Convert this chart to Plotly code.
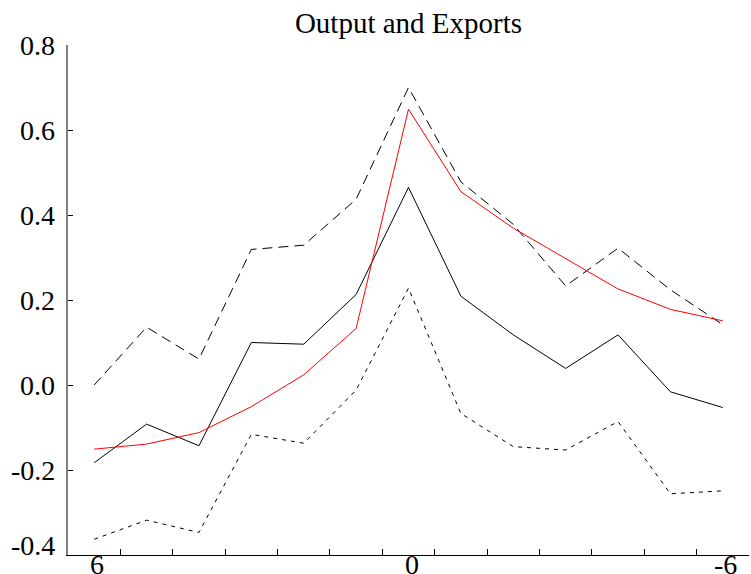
import plotly.graph_objects as go

# Horizon (leads/lags) and the four series
horizon = [6, 5, 4, 3, 2, 1, 0, -1, -2, -3, -4, -5, -6]
estimate = [-0.183, -0.092, -0.143, 0.100, 0.096, 0.213, 0.465, 0.209, 0.118, 0.039, 0.118, -0.016, -0.053]
model = [-0.151, -0.139, -0.112, -0.051, 0.024, 0.133, 0.649, 0.455, 0.369, 0.297, 0.226, 0.178, 0.151]
upper_band = [0.0, 0.136, 0.061, 0.319, 0.329, 0.437, 0.700, 0.478, 0.378, 0.233, 0.322, 0.224, 0.142]
lower_band = [-0.363, -0.318, -0.347, -0.116, -0.137, -0.012, 0.228, -0.067, -0.145, -0.153, -0.086, -0.256, -0.249]

y_ticks = [-0.4, -0.2, 0.0, 0.2, 0.4, 0.6, 0.8]
y_tick_text = ["-0.4", "-0.2", "0.0", "0.2", "0.4", "0.6", "0.8"]
x_minor_ticks = [5.5, 4.5, 3.5, 2.5, 1.5, 0.5, -0.5, -1.5, -2.5, -3.5, -4.5, -5.5, -6.5]
x_label_vals = [6, 0, -6]
x_label_text = ["6", "0", "-6"]

FONT = "Liberation Serif"

fig = go.Figure()
fig.add_trace(go.Scatter(x=horizon, y=upper_band, mode="lines",
                         line=dict(color="black", width=1, dash="10px,6px")))
fig.add_trace(go.Scatter(x=horizon, y=lower_band, mode="lines",
                         line=dict(color="black", width=1, dash="4px,5px")))
fig.add_trace(go.Scatter(x=horizon, y=estimate, mode="lines",
                         line=dict(color="black", width=1)))
fig.add_trace(go.Scatter(x=horizon, y=model, mode="lines",
                         line=dict(color="#ff0000", width=1)))

annotations = []
for v, t in zip(y_ticks, y_tick_text):
    annotations.append(dict(
        x=0, xref="paper", y=v, yref="y", text=t, showarrow=False,
        xanchor="right", yanchor="middle", xshift=-11,
        yshift=10 if v == y_ticks[0] else 0,
        font=dict(family=FONT, size=28, color="black")))
for v, t in zip(x_label_vals, x_label_text):
    annotations.append(dict(
        x=v, xref="x", y=0, yref="paper", text=t, showarrow=False,
        xanchor="center", yanchor="top", yshift=8, xshift=3,
        font=dict(family=FONT, size=28, color="black")))

fig.update_layout(
    width=751, height=574,
    margin=dict(l=68, r=2, t=45, b=19),
    paper_bgcolor="white", plot_bgcolor="white",
    showlegend=False,
    title=dict(text="Output and Exports", x=0.5, xref="paper", xanchor="center",
               y=1 - 23 / 574, yref="container", yanchor="middle",
               font=dict(family=FONT, size=29, color="black")),
    xaxis=dict(range=[6.5, -6.5], showgrid=False, zeroline=False,
               showline=True, linecolor="black", linewidth=1,
               tickmode="array", tickvals=x_minor_ticks, ticks="inside",
               ticklen=6, tickcolor="black", tickwidth=1, showticklabels=False),
    yaxis=dict(range=[-0.4, 0.8], showgrid=False, zeroline=False,
               showline=True, linecolor="#808080", linewidth=1.5,
               tickmode="array", tickvals=y_ticks, ticks="inside",
               ticklen=5, tickcolor="black", tickwidth=1, showticklabels=False),
    annotations=annotations,
)

fig.write_html("out.html")
